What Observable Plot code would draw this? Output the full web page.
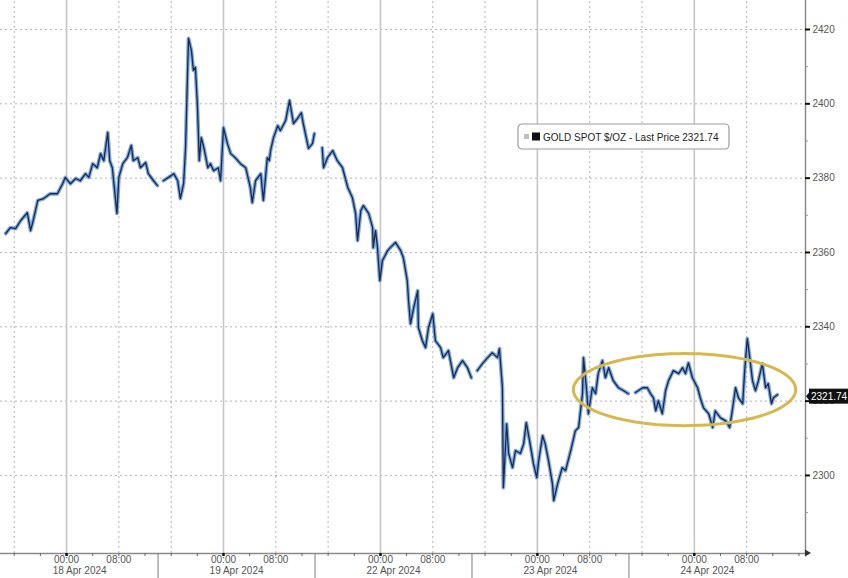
<!DOCTYPE html>
<html><head><meta charset="utf-8">
<script src="https://cdn.jsdelivr.net/npm/d3@7"></script>
<script src="https://cdn.jsdelivr.net/npm/@observablehq/plot@0.6"></script>
<style>
html,body{margin:0;padding:0;background:#fff;}
#chart{width:848px;height:578px;overflow:hidden;position:relative;}
</style></head><body><div id="chart"></div>
<script>
// Gold spot price. x = trading hours since 18 Apr 2024 00:00 (weekend removed: 19 Apr 00:00 = 24, 22 Apr 00:00 = 48)
const goldSpot = [
  [-9.3,2365.1],[-8.6,2366.7],[-7.8,2366.4],[-7.0,2368.6],[-6.0,2370.7],[-5.5,2365.9],[-5.1,2368.6],[-4.4,2374.0],[-3.5,2374.5],[-2.5,2375.8],[-1.4,2375.8],[-0.6,2378.5],[-0.2,2380.2],[0.6,2378.5],[1.4,2379.9],[2.1,2379.3],[2.9,2381.2],[3.4,2380.2],[4.0,2383.9],[4.7,2382.8],[5.2,2386.6],[5.7,2384.7],[6.3,2392.3],[6.6,2384.7],[7.0,2382.8],[7.2,2379.3],[7.7,2370.5],[8.0,2380.2],[8.6,2383.9],[9.3,2385.5],[9.9,2388.8],[10.2,2384.7],[10.9,2385.5],[11.3,2382.8],[12.1,2384.2],[12.5,2381.2],[13.3,2379.3],[13.9,2378.0],
  [14.8,2379.3],[15.6,2380.2],[16.4,2381.2],[17.0,2379.3],[17.4,2374.5],[17.9,2378.5],[18.2,2388.2],[18.5,2408.1],[18.65,2417.6],[19.1,2414.3],[19.4,2409.0],[19.7,2409.8],[20.0,2400.1],[20.3,2384.7],[20.6,2390.9],[21.0,2388.2],[21.6,2382.8],[22.0,2383.9],[22.5,2382.0],[23.2,2382.8],[23.55,2379.3],[24.0,2393.6],[24.6,2389.3],[25.1,2386.6],[25.8,2385.5],[26.6,2383.9],[27.4,2382.8],[28.1,2377.5],[28.4,2373.4],[28.9,2379.3],[29.7,2381.2],[30.1,2374.0],[30.7,2385.5],[31.0,2384.7],[31.2,2387.4],[31.65,2390.9],[32.3,2394.1],[32.7,2392.8],[33.5,2395.5],[34.1,2400.9],[34.7,2394.7],[35.3,2396.0],[35.9,2397.6],[36.2,2394.7],[37.0,2388.0],[37.6,2389.3],[37.9,2392.0],
  [39.1,2388.2],[39.3,2382.8],[39.9,2385.5],[40.7,2387.4],[41.4,2384.7],[42.2,2382.8],[43.0,2377.5],[43.7,2374.8],[44.2,2370.5],[44.5,2363.2],[45.0,2371.3],[45.4,2372.6],[46.2,2370.5],[46.8,2366.7],[46.9,2361.3],[47.25,2365.9],[47.55,2361.3],[47.9,2352.4],[48.3,2357.8],[49.1,2360.5],[49.5,2361.3],[50.3,2362.7],[51.1,2360.5],[51.5,2358.6],[52.1,2352.4],[52.3,2347.0],[52.6,2340.8],[53.1,2345.2],[53.7,2349.7],[53.8,2339.8],[54.4,2336.3],[54.9,2334.4],[55.35,2339.8],[56.0,2343.5],[56.4,2336.3],[57.2,2334.4],[57.6,2331.7],[58.4,2333.6],[59.2,2326.3],[59.8,2329.0],[60.55,2330.9],[61.3,2329.0],[61.9,2326.3],
  [62.8,2328.2],[63.6,2330.1],[64.4,2331.7],[65.1,2333.0],[65.9,2331.7],[66.2,2334.1],[66.65,2323.6],[66.8,2296.7],[67.3,2313.9],[67.6,2305.9],[68.2,2302.1],[68.65,2306.7],[69.4,2305.9],[69.9,2308.5],[70.3,2314.2],[70.8,2309.4],[71.4,2303.2],[71.9,2299.4],[72.2,2304.0],[72.8,2310.7],[73.2,2308.5],[73.7,2304.0],[74.3,2297.8],[74.5,2293.2],[75.1,2297.8],[75.8,2302.1],[76.3,2301.3],[77.1,2306.7],[77.8,2312.0],[78.3,2312.9],[78.9,2322.0],[79.05,2331.7],[79.5,2323.6],[79.8,2316.6],[80.4,2323.6],[80.9,2322.0],[81.3,2327.4],[81.95,2330.9],[82.4,2326.3],[82.9,2329.0],[83.6,2325.5],[84.4,2323.6],[85.2,2322.8],[85.9,2322.0],
  [87.0,2322.3],[88.1,2323.6],[88.8,2323.6],[89.3,2322.0],[89.75,2320.9],[90.1,2317.4],[90.5,2320.1],[91.1,2316.6],[91.6,2322.8],[92.05,2325.5],[92.8,2328.2],[93.6,2327.4],[94.2,2329.0],[94.65,2327.4],[95.1,2330.3],[95.7,2326.3],[96.5,2323.6],[96.9,2320.9],[97.4,2318.2],[98.2,2316.6],[98.8,2312.9],[99.2,2317.4],[100.0,2315.5],[100.8,2314.7],[101.4,2312.9],[101.8,2317.4],[102.3,2323.6],[102.75,2320.9],[103.4,2319.3],[103.7,2328.2],[104.1,2336.8],[104.4,2332.8],[104.9,2325.5],[105.35,2322.8],[105.8,2325.5],[106.4,2330.1],[106.9,2323.6],[107.3,2324.7],[107.8,2319.3],[108.1,2320.9],[108.7,2321.74]
];
const sessionBreaks = [14, 38, 62, 86];
const dayStarts = [0, 24, 48, 72, 96];
const dayLabels = ["18 Apr 2024", "19 Apr 2024", "22 Apr 2024", "23 Apr 2024", "24 Apr 2024"];
const timeLabelHours = [0, 8];
const timeLabels = ["00:00", "08:00"];
const gridHours = [-8, 8, 16, 32, 40, 56, 64, 80, 88, 104];
const priceTicks = [2300, 2320, 2340, 2360, 2380, 2400, 2420];
const priceMinorTicks = [2290, 2310, 2330, 2350, 2370, 2390, 2410];
const lastPrice = 2321.74;
const seriesName = "GOLD SPOT $/OZ";
const highlightCenter = [94.5, 2323.1];
const highlightRadii = [17, 9.7];

const W = 848, H = 578, mR = 43, mB = 25;
const X0 = -10.1, X1 = 113, Y0 = 2279, Y1 = 2427.8;
const pxY = (Y1 - Y0) / (H - mB);
const pxX = (X1 - X0) / (W - mR);
const FONT = "'Liberation Sans', Arial, sans-serif";

const rows = goldSpot.map(([h, p]) => ({h, p}))
  .concat(sessionBreaks.map(h => ({h, p: NaN})))
  .sort((a, b) => a.h - b.h);

const ellipse = d3.range(0, 96).map(i => {
  const t = i / 96 * 2 * Math.PI;
  return {h: highlightCenter[0] + highlightRadii[0] * Math.cos(t), p: highlightCenter[1] + highlightRadii[1] * Math.sin(t)};
});

const labelTicks = dayStarts.flatMap(d => timeLabelHours.map((o, i) => ({h: d + o, t: timeLabels[i]})));
const dateTicks = dayStarts.map((d, i) => ({h: d + 2, t: dayLabels[i]}));
const smallTicks = d3.range(-8, 113, 4);

const plot = Plot.plot({
  width: W, height: H, marginLeft: 0, marginRight: mR, marginTop: 0, marginBottom: mB,
  x: {domain: [X0, X1], axis: null},
  y: {domain: [Y0, Y1], axis: null},
  style: {fontFamily: FONT, fontSize: "10px", background: "#fff", overflow: "visible"},
  marks: [
    Plot.ruleY(priceTicks, {x1: X0, x2: X1, stroke: "#b3b3b3", strokeDasharray: "2,3", strokeWidth: 1}),
    Plot.ruleX(gridHours, {y1: Y0, y2: Y1, stroke: "#b3b3b3", strokeDasharray: "2,3", strokeWidth: 1}),
    Plot.ruleX(dayStarts, {y1: Y0, y2: Y1, stroke: "#c6c6c6", strokeWidth: 1.6}),
    Plot.ruleX(sessionBreaks, {y1: Y0, y2: Y0 - mB * pxY, stroke: "#a8a8a8", strokeWidth: 1.5}),
    Plot.line(rows, {x: "h", y: "p", stroke: "#5b93dc", strokeWidth: 3.8, strokeOpacity: 0.8}),
    Plot.line(rows, {x: "h", y: "p", stroke: "#1c2846", strokeWidth: 1.3}),
    Plot.line(ellipse, {x: "h", y: "p", curve: "linear-closed", stroke: "#d6b94e", strokeWidth: 3}),
    Plot.ruleY([Y0], {x1: X0, x2: X1, stroke: "#8a8a8a", strokeWidth: 1.5}),
    Plot.ruleX([X1], {y1: Y0, y2: Y1, stroke: "#8a8a8a", strokeWidth: 1.5}),
    Plot.ruleX(smallTicks, {y1: Y0, y2: Y0 - 3 * pxY, stroke: "#666", strokeWidth: 1}),
    Plot.ruleX(dayStarts, {y1: Y0, y2: Y0 - 3 * pxY, stroke: "#111", strokeWidth: 2.5}),
    Plot.ruleY(priceTicks, {x1: X1, x2: X1 + 5 * pxX, stroke: "#111", strokeWidth: 2}),
    Plot.ruleY(priceMinorTicks, {x1: X1, x2: X1 + 3 * pxX, stroke: "#999", strokeWidth: 1}),
    Plot.text(priceTicks, {y: d => d, frameAnchor: "right", dx: 7, textAnchor: "start", text: d => String(d), fill: "#555", fontSize: 10}),
    Plot.text(labelTicks, {x: "h", frameAnchor: "bottom", dy: 9, text: "t", fill: "#555", fontSize: 10}),
    Plot.text(dateTicks, {x: "h", frameAnchor: "bottom", dy: 20, text: "t", fill: "#555", fontSize: 10})
  ]
});

document.getElementById("chart").appendChild(plot);

// annotations using the plot's own scales
const svg = d3.select(plot);
const sx = plot.scale("x"), sy = plot.scale("y");
const ax = sx.apply(X1), ay = sy.apply(Y0);
svg.append("path").attr("d", `M${ax},${ay - 3.5}L${ax + 6},${ay}L${ax},${ay + 3.5}Z`).attr("fill", "#333");

const ly = sy.apply(lastPrice) + 2;
const tag = svg.append("g");
tag.append("path").attr("d", `M${ax + 1},${ly}L${ax + 5},${ly - 5}L${ax + 5},${ly + 5}Z`).attr("fill", "#111");
tag.append("rect").attr("x", ax + 4).attr("y", ly - 7.5).attr("width", 50).attr("height", 15).attr("fill", "#111");
tag.append("text").attr("x", ax + 6).attr("y", ly + 3.5).attr("fill", "#fff").attr("font-size", 10)
  .attr("text-anchor", "start").attr("font-family", FONT).text(lastPrice.toFixed(2));

const lg = svg.append("g").attr("transform", "translate(518,124)");
lg.append("rect").attr("width", 211).attr("height", 25).attr("rx", 4).attr("fill", "#fff").attr("stroke", "#9a9a9a").attr("stroke-width", 1.2);
lg.append("rect").attr("x", 6).attr("y", 10).attr("width", 5).attr("height", 5).attr("fill", "#bdbdbd");
lg.append("rect").attr("x", 14).attr("y", 8.5).attr("width", 8).attr("height", 8).attr("fill", "#111");
lg.append("text").attr("x", 25).attr("y", 16.5).attr("font-size", 10).attr("fill", "#222")
  .attr("text-anchor", "start").attr("font-family", FONT)
  .text(`${seriesName} - Last Price ${lastPrice.toFixed(2)}`);
</script></body></html>
